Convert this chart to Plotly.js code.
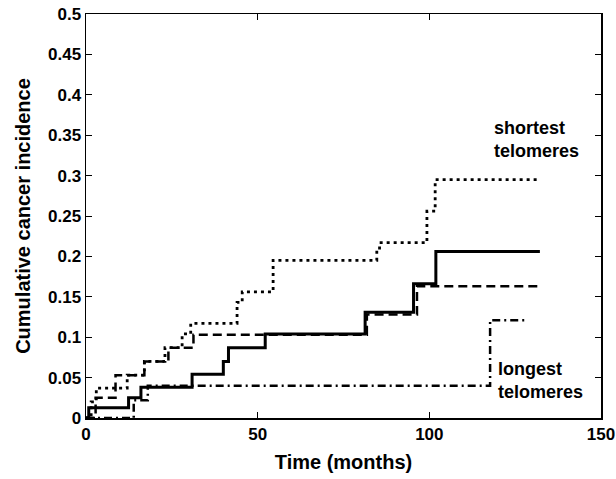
<!DOCTYPE html>
<html>
<head>
<meta charset="utf-8">
<script src="https://cdn.plot.ly/plotly-3.0.1.min.js"></script>
<style>html,body{margin:0;padding:0;background:#fff;}#chart{width:616px;height:479px;}</style>
</head>
<body>
<div id="chart"></div>
<script>
// Shortest telomeres (dotted)
const shortestT = [0, 1.5, 3, 12, 17, 23, 28, 30.5, 44, 45.5, 54.5, 84.7, 85.5, 99.3, 101.7, 131.7];
const shortestV = [0, 0.02, 0.037, 0.053, 0.07, 0.087, 0.104, 0.117, 0.143, 0.156, 0.195, 0.208, 0.217, 0.256, 0.295, 0.295];
// Middle group (solid)
const solidT = [0, 0.8, 12.4, 16, 30.9, 40, 41.5, 52.2, 81.3, 95.4, 101.9, 132.2];
const solidV = [0, 0.0126, 0.025, 0.038, 0.054, 0.07, 0.087, 0.104, 0.131, 0.166, 0.206, 0.206];
// Middle group (dashed)
const dashedT = [0, 2.8, 8.6, 17, 24, 31.3, 81.8, 96.4, 132.2];
const dashedV = [0, 0.025, 0.053, 0.07, 0.087, 0.103, 0.128, 0.163, 0.163];
// Longest telomeres (dash-dot)
const longestT = [0, 13.9, 18, 117.7, 128.4];
const longestV = [0, 0.022, 0.040, 0.121, 0.121];

const xTicks = [0, 50, 100, 150];
const yTicks = [0, 0.05, 0.1, 0.15, 0.2, 0.25, 0.3, 0.35, 0.4, 0.45, 0.5];
const yTickText = ['0', '0.05', '0.1', '0.15', '0.2', '0.25', '0.3', '0.35', '0.4', '0.45', '0.5'];

const FONT = 'Liberation Sans, Arial, sans-serif';

function stepTrace(t, v, dash, width) {
  return {x: t, y: v, type: 'scatter', mode: 'lines',
    line: {shape: 'hv', color: '#000', dash: dash, width: width},
    hoverinfo: 'skip', showlegend: false};
}

const data = [
  stepTrace(longestT, longestV, '8px,4px,2px,4px', 2.5),
  stepTrace(dashedT, dashedV, '9px,5px', 2.5),
  stepTrace(shortestT, shortestV, '3px,4px', 2.8),
  stepTrace(solidT, solidV, 'solid', 3)
];

const layout = {
  width: 616, height: 479,
  margin: {l: 85.5, r: 15, t: 14, b: 61},
  paper_bgcolor: '#fff', plot_bgcolor: '#fff',
  font: {family: FONT, color: '#000'},
  showlegend: false,
  xaxis: {
    range: [0, 150], tickvals: xTicks, ticktext: xTicks.map(String),
    ticks: 'inside', ticklen: 6, tickwidth: 1, tickcolor: '#000',
    showline: true, linecolor: '#000', linewidth: 1.5, mirror: 'ticks',
    showgrid: false, zeroline: false,
    tickfont: {family: FONT, size: 17, weight: 'bold', color: '#000'},
    title: {text: 'Time (months)', font: {family: FONT, size: 20, weight: 'bold', color: '#000'}, standoff: 12}
  },
  yaxis: {
    range: [0, 0.5], tickvals: yTicks, ticktext: yTickText,
    ticks: 'inside', ticklen: 6, tickwidth: 1, tickcolor: '#000',
    showline: true, linecolor: '#000', linewidth: 1.5, mirror: 'ticks',
    showgrid: false, zeroline: false,
    tickfont: {family: FONT, size: 17, weight: 'bold', color: '#000'},
    title: {text: 'Cumulative cancer incidence', font: {family: FONT, size: 20, weight: 'bold', color: '#000'}, standoff: 12}
  },
  annotations: [
    {x: 118.3, y: 0.345, xref: 'x', yref: 'y', text: 'shortest<br>telomeres', showarrow: false,
     xanchor: 'left', yanchor: 'middle', align: 'left',
     font: {family: FONT, size: 18, weight: 'bold', color: '#000'}},
    {x: 119.5, y: 0.046, xref: 'x', yref: 'y', text: 'longest<br>telomeres', showarrow: false,
     xanchor: 'left', yanchor: 'middle', align: 'left',
     font: {family: FONT, size: 18, weight: 'bold', color: '#000'}}
  ]
};

Plotly.newPlot('chart', data, layout, {displayModeBar: false, staticPlot: true});
</script>
</body>
</html>
